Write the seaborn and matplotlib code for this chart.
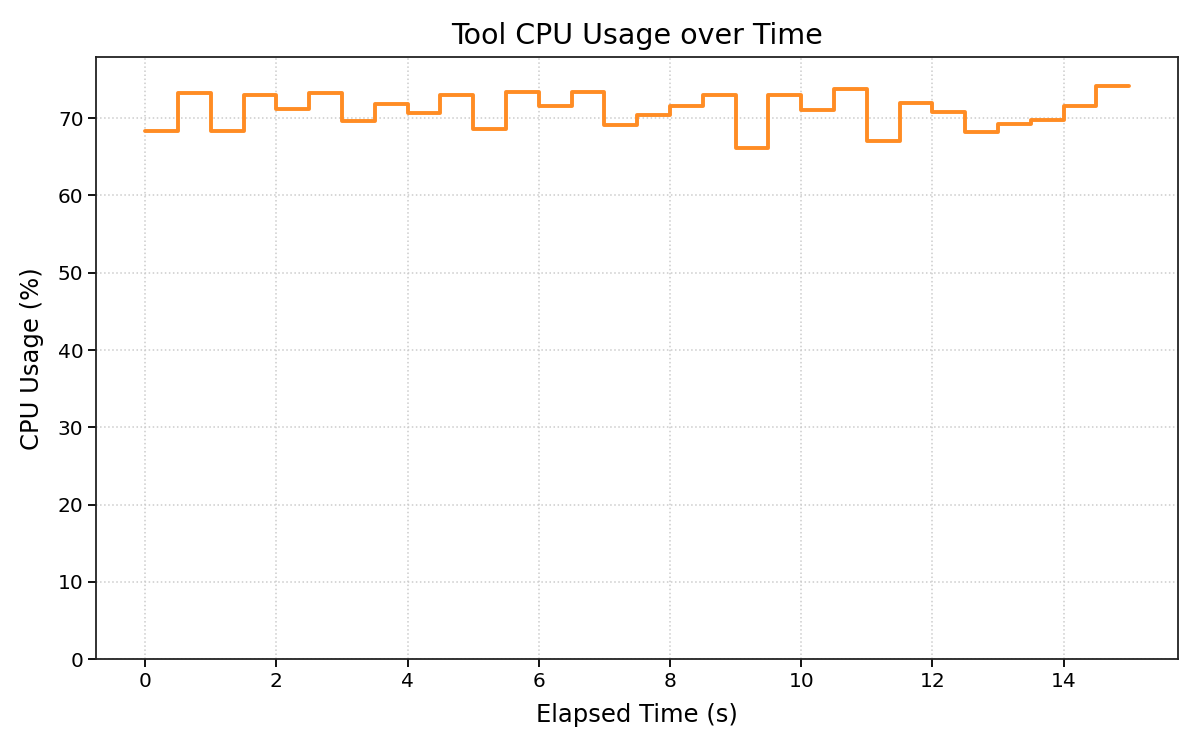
import matplotlib
matplotlib.use("Agg")
import matplotlib.pyplot as plt
import seaborn as sns
import pandas as pd

time_s = [0.0, 0.5, 1.0, 1.5, 2.0, 2.5, 3.0, 3.5, 4.0, 4.5, 5.0, 5.5, 6.0, 6.5, 7.0,
          7.5, 8.0, 8.5, 9.0, 9.5, 10.0, 10.5, 11.0, 11.5, 12.0, 12.5, 13.0, 13.5,
          14.0, 14.5, 15.0]
cpu_pct = [68.4, 73.3, 68.3, 73.0, 71.2, 73.2, 69.6, 71.8, 70.7, 73.0, 68.6, 73.4,
           71.6, 73.4, 69.1, 70.4, 71.6, 73.0, 66.1, 73.0, 71.0, 73.8, 67.0, 71.9,
           70.8, 68.2, 69.3, 69.8, 71.6, 74.2, 74.2]

df = pd.DataFrame({"Elapsed Time (s)": time_s, "CPU Usage (%)": cpu_pct})

sns.set_theme(style="ticks", rc={"text.color": "black", "axes.labelcolor": "black",
                                 "xtick.color": "black", "ytick.color": "black",
                                 "axes.edgecolor": "#222222"})
plt.rcParams['font.family'] = ['DejaVu Sans']

fig, ax = plt.subplots(figsize=(12, 7.5), dpi=100)
sns.lineplot(data=df, x="Elapsed Time (s)", y="CPU Usage (%)", ax=ax,
             drawstyle="steps-post", color="#ff8c24", linewidth=2.8)
ax.set_ylim(0, max(cpu_pct) * 1.05)
ax.grid(True, linestyle=":", color="#cccccc", linewidth=1.1)
ax.set_title("Tool CPU Usage over Time", fontsize=20.5, pad=9)
ax.set_xlabel("Elapsed Time (s)", fontsize=17.5, labelpad=9)
ax.set_ylabel("CPU Usage (%)", fontsize=17.5, labelpad=10)
ax.tick_params(labelsize=14.5, length=5.5, width=1.3)
for s in ax.spines.values():
    s.set_linewidth(1.3)
fig.subplots_adjust(left=0.08, right=0.982, top=0.924, bottom=0.121)
fig.savefig("out.png", dpi=100)
